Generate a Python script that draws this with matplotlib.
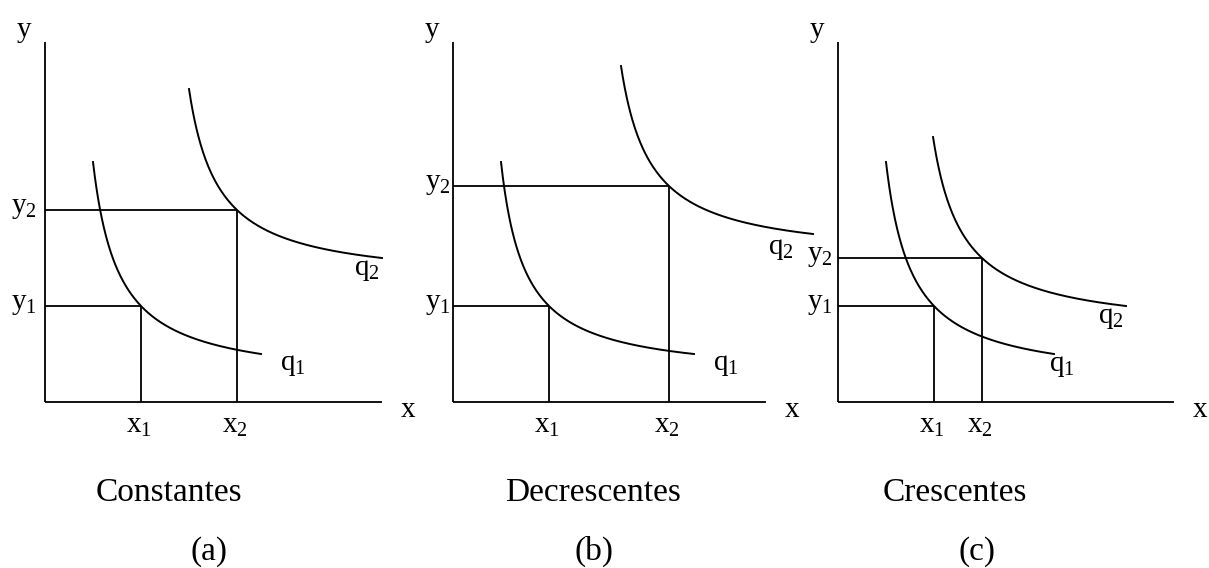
"""Isoquant diagrams for constant, decreasing and increasing returns to scale."""

import matplotlib
matplotlib.use("Agg")
import matplotlib.pyplot as plt
import numpy as np

plt.rcParams["font.family"] = "Liberation Serif"
plt.rcParams["mathtext.fontset"] = "custom"
plt.rcParams["mathtext.rm"] = "Liberation Serif"
plt.rcParams["mathtext.it"] = "Liberation Serif"

INK = "black"
PX = 48.0  # pixels per data unit, same on both axes
W, H = 1209, 568

# panel values (data units)
titles = ["Constantes", "Decrescentes", "Crescentes"]
tags = ["(a)", "(b)", "(c)"]
x_axis_len = [7.02, 6.52, 7.0]
y_axis_len = [7.5, 7.5, 7.5]
x1_vals = [2.0, 2.0, 2.0]
y1_vals = [2.0, 2.0, 2.0]
x2_vals = [4.0, 4.5, 3.0]
y2_vals = [4.0, 4.5, 3.0]
# isoquant ends (start point upper left, end point lower right)
q1_start = [(1.0, 5.0), (1.0, 5.0), (1.0, 5.0)]
q1_end = [(4.5, 1.0), (5.02, 1.0), (4.5, 1.0)]
q2_start = [(3.0, 6.52), (3.5, 7.0), (1.98, 5.52)]
q2_end = [(7.02, 3.0), (7.5, 3.5), (6.0, 2.0)]

# layout (pixels / data units)
origins = [(45, 402), (453, 402), (838, 402)]
q1_label = [(5.17, 0.77), (5.69, 0.77), (4.67, 0.75)]
q2_label = [(6.71, 2.75), (6.83, 3.19), (5.69, 1.75)]
ylab_right = [-0.17, -0.04, -0.10]
title_x = [2.58, 2.92, 2.44]
tag_x = [3.42, 2.94, 2.90]


def hyperbola(p_start, p_mid, p_end):
    """(x - a)(y - b) = k through three points; returns sampled curve."""
    (xa, ya), (xb, yb), (xc, yc) = p_start, p_mid, p_end
    A = np.array([[yb - ya, xb - xa], [yc - yb, xc - xb]])
    rhs = np.array([xb * yb - xa * ya, xc * yc - xb * yb])
    a, b = np.linalg.solve(A, rhs)
    k = (xb - a) * (yb - b)
    xs = np.linspace(xa, xc, 300)
    return xs, b + k / (xs - a)


fig = plt.figure(figsize=(W / 100, H / 100), dpi=100)

for i in range(3):
    ox, oy = origins[i]
    ax = fig.add_axes([ox / W, (H - oy) / H, 7.5 * PX / W, 7.5 * PX / H])
    ax.set_xlim(0, 7.5)
    ax.set_ylim(0, 7.5)
    ax.axis("off")
    kw = dict(color=INK, lw=1.3, clip_on=False, solid_capstyle="butt")

    # axes
    ax.plot([0, x_axis_len[i]], [0, 0], **kw)
    ax.plot([0, 0], [0, y_axis_len[i]], **kw)

    # input combinations
    for xv, yv in [(x1_vals[i], y1_vals[i]), (x2_vals[i], y2_vals[i])]:
        ax.plot([0, xv], [yv, yv], **kw)
        ax.plot([xv, xv], [0, yv], **kw)

    # isoquants
    xs, ys = hyperbola(q1_start[i], (x1_vals[i], y1_vals[i]), q1_end[i])
    ax.plot(xs, ys, color=INK, lw=1.4, clip_on=False)
    xs, ys = hyperbola(q2_start[i], (x2_vals[i], y2_vals[i]), q2_end[i])
    ax.plot(xs, ys, color=INK, lw=1.4, clip_on=False)

    fs = 21
    ax.text(-0.43, 7.75, "y", fontsize=fs, ha="center", va="center")
    ax.text(x_axis_len[i] + 0.55, -0.17, "x", fontsize=fs, ha="center", va="center")
    ax.text(x1_vals[i] - 0.05, -0.22, r"$\mathregular{x_1}$", fontsize=fs, ha="center", va="top")
    ax.text(x2_vals[i] - 0.05, -0.22, r"$\mathregular{x_2}$", fontsize=fs, ha="center", va="top")
    ax.text(ylab_right[i], y1_vals[i] + 0.05, r"$\mathregular{y_1}$", fontsize=fs, ha="right", va="center")
    ax.text(ylab_right[i], y2_vals[i] + 0.05, r"$\mathregular{y_2}$", fontsize=fs, ha="right", va="center")
    ax.text(*q1_label[i], r"$\mathregular{q_1}$", fontsize=fs, ha="center", va="center")
    ax.text(*q2_label[i], r"$\mathregular{q_2}$", fontsize=fs, ha="center", va="center")

    ax.text(title_x[i], -2.06, titles[i], fontsize=24, ha="center", va="baseline")
    ax.text(tag_x[i], -3.29, tags[i], fontsize=24, ha="center", va="baseline")

fig.savefig("out.png", dpi=100)
